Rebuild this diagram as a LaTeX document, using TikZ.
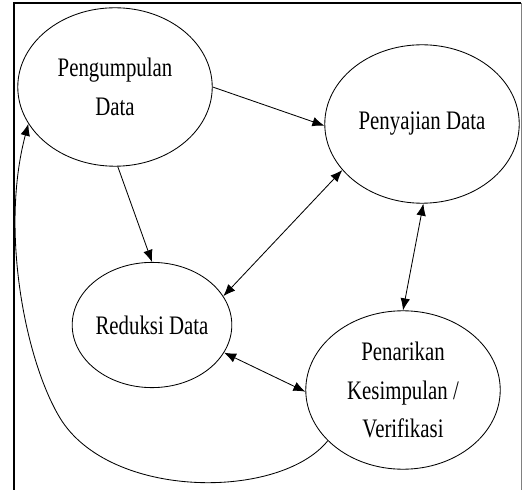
\documentclass[tikz,border=0pt]{standalone}
\usepackage{fontspec}
\setmainfont{Liberation Serif}[FakeStretch=0.78]
\usetikzlibrary{shapes.geometric,arrows.meta}

\begin{document}
\begin{tikzpicture}[x=0.025cm, y=-0.025cm, >={Latex[length=3mm,width=2.4mm]},
		main/.style = {draw, ellipse, line width=0.6pt, inner sep=0pt, align=center,
			minimum width=4.86cm, minimum height=3.96cm,
			font=\fontsize{19}{27.6}\selectfont}]
			\useasboundingbox (0,0) rectangle (523,490);
			\draw[line width=1.4pt] (14,490) -- (14,3) -- (521,3);
			\draw[gray, line width=0.6pt] (521,3) -- (521,490);
			\node[main] (1) at (115,87) {Pengumpulan\\Data};
			\node[main] (2) at (422,124) {Penyajian Data};
			\node[main, minimum width=3.88cm, minimum height=3.13cm] (3) at (152,325) {Reduksi Data};
			\node[main] (4) at (403,390) {Penarikan\\Kesimpulan /\\Verifikasi};
			\draw[->, line width=0.6pt] (1.0) -- (2.181);
			\draw[->, line width=0.6pt] (1.-88) -- (3.90);
			\draw[<->, line width=0.6pt] (2.-150) -- (3.22);
			\draw[<->, line width=0.6pt] (2.-89) -- (4.90);
			\draw[<->, line width=0.6pt] (3.-21) -- (4.181);
			\draw[->, line width=0.6pt] (4.214) .. controls (280,500) and (110,500) .. (60,418)
				.. controls (25,360) and (0,230) .. (1.203);
		\end{tikzpicture}
\end{document}
